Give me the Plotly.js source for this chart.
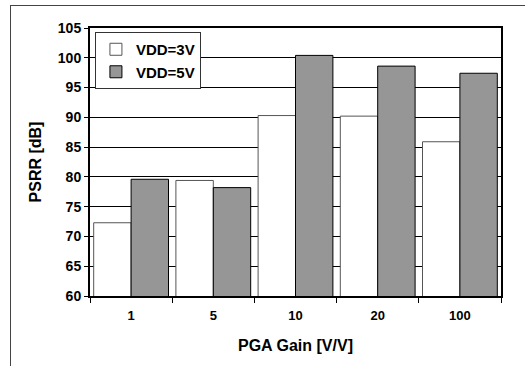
<!DOCTYPE html>
<html>
<head>
<meta charset="utf-8">
<script src="https://cdn.plot.ly/plotly-3.0.1.min.js"></script>
<style>
  html, body { margin: 0; padding: 0; background: #fff; }
  #wrap { position: relative; width: 525px; height: 366px; }
  #chart { position: absolute; left: 0; top: 0; width: 525px; height: 366px; }
  #frame { position: absolute; left: 10px; top: 5px; width: 520px; height: 370px;
           border-top: 1px solid #444; border-left: 1px solid #444; pointer-events: none; }
</style>
</head>
<body>
<div id="wrap">
  <div id="chart"></div>
  <div id="frame"></div>
</div>
<script>
const gains = ["1", "5", "10", "20", "100"];
const psrr3V = [72.3, 79.4, 90.3, 90.2, 85.9];
const psrr5V = [79.6, 78.2, 100.4, 98.6, 97.4];
const seriesNames = ["VDD=3V", "VDD=5V"];
const yTicks = [60, 65, 70, 75, 80, 85, 90, 95, 100, 105];

const font = "Liberation Sans, Arial, sans-serif";

const traces = [
  {
    type: "bar", name: seriesNames[0], x: gains, y: psrr3V,
    marker: { color: "#ffffff", line: { color: "#555555", width: 1 } }
  },
  {
    type: "bar", name: seriesNames[1], x: gains, y: psrr5V,
    marker: { color: "#969696", line: { color: "#000000", width: 1 } }
  }
];

const layout = {
  width: 525, height: 366,
  margin: { l: 90, r: 24, t: 28, b: 70 },
  paper_bgcolor: "#ffffff", plot_bgcolor: "#ffffff",
  font: { family: font, color: "#000", size: 13 },
  barmode: "group", bargap: 0.09, bargroupgap: 0,
  showlegend: true,
  legend: {
    x: 0.012, y: 0.985, xanchor: "left", yanchor: "top",
    bgcolor: "#ffffff", bordercolor: "#333333", borderwidth: 1,
    font: { family: font, size: 15, color: "#000", weight: "bold" },
    tracegroupgap: 0, itemwidth: 30
  },
  xaxis: {
    type: "category",
    tickson: "boundaries",
    ticks: "outside", ticklen: 5, tickwidth: 1, tickcolor: "#000",
    showline: true, linewidth: 2, linecolor: "#000", mirror: true,
    showgrid: false, zeroline: false,
    tickfont: { family: font, size: 13, color: "#000", weight: "bold" },
    ticklabelstandoff: 6,
    title: { text: "<b>PGA Gain [V/V]</b>", font: { family: font, size: 16, color: "#000" }, standoff: 18 },
    automargin: false, fixedrange: true
  },
  yaxis: {
    range: [60, 105], tickvals: yTicks, ticktext: yTicks.map(String),
    ticks: "outside", ticklen: 4, tickwidth: 1, tickcolor: "#000",
    showline: true, linewidth: 2, linecolor: "#000", mirror: true,
    showgrid: true, gridcolor: "#000", gridwidth: 1, zeroline: false,
    tickfont: { family: font, size: 14, color: "#000", weight: "bold" },
    title: { text: "<b>PSRR [dB]</b>", font: { family: font, size: 16, color: "#000" }, standoff: 12 },
    automargin: false, fixedrange: true
  }
};

Plotly.newPlot("chart", traces, layout, { displayModeBar: false, staticPlot: true });
</script>
</body>
</html>
